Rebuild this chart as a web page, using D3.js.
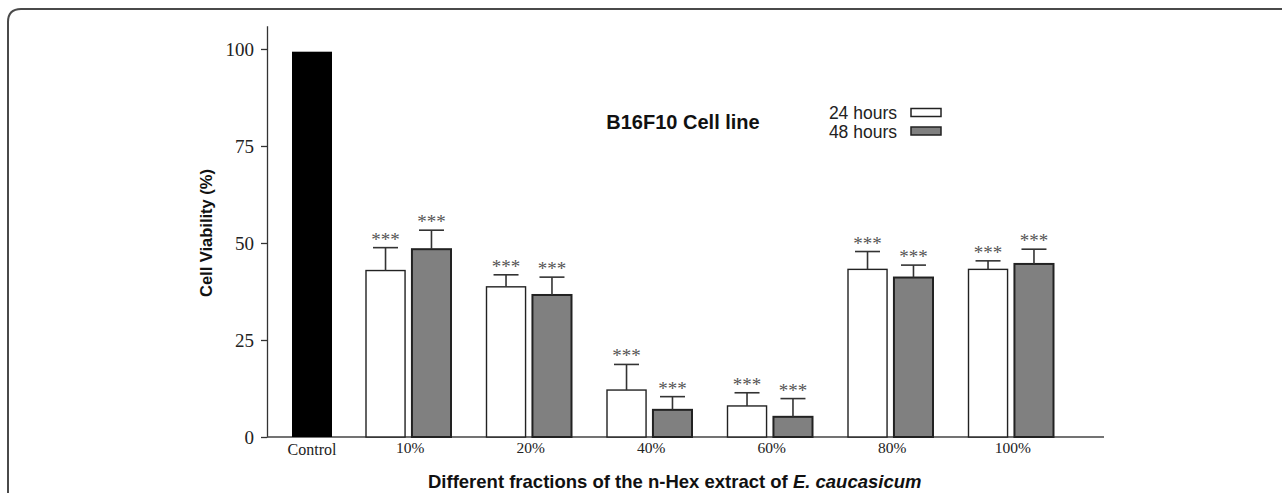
<!DOCTYPE html>
<html>
<head>
<meta charset="utf-8">
<script src="https://cdn.jsdelivr.net/npm/d3@7"></script>
<style>
  body { margin: 0; background: #fff; }
  svg { display: block; }
</style>
</head>
<body>
<svg id="vis"></svg>
<script>
const svg = d3.select("#vis").attr("width", 1282).attr("height", 493);

// data
const categories = ["10%", "20%", "40%", "60%", "80%", "100%"];
const series = ["24 hours", "48 hours"];
const controlValue = 99.3;
const h24 = [42.9, 38.7, 12.1, 8.0, 43.2, 43.2];
const h24Err = [5.9, 3.1, 6.6, 3.4, 4.6, 2.2];
const h48 = [48.4, 36.6, 7.0, 5.2, 41.1, 44.6];
const h48Err = [4.9, 4.6, 3.4, 4.7, 3.2, 3.8];
const yTicks = [0, 25, 50, 75, 100];

const SERIF = "'Liberation Serif', 'Times New Roman', serif";
const SANS = "'Liberation Sans', Arial, sans-serif";
const GRAY = "#808080";

let yscale = d3.scaleLinear().domain([0, 106]).range([437, 25.7]);
let xscale = d3.scaleBand().domain(categories).range([350, 1073]);
let xsub = d3.scaleBand().domain(series).range([16, 101]).paddingInner(0.15);
let xctrl = d3.scaleBand().domain(["Control"]).range([292, 332]);

function main() {
    drawFrame();
    drawAxes();
    drawBars();
    drawLabels();
}

function drawFrame() {
    svg.append("path")
        .attr("d", "M8,493 V22 Q8,9 21,9 H1282")
        .attr("fill", "none")
        .attr("stroke", "#4a4a4a")
        .attr("stroke-width", 2);
}

function drawAxes() {
    const yAxis = svg.append("g")
        .attr("transform", "translate(267,0)")
        .call(d3.axisLeft(yscale).tickValues(yTicks).tickSize(6).tickPadding(7).tickSizeOuter(0));
    yAxis.select(".domain").attr("stroke", "#333").attr("stroke-width", 1.3);
    yAxis.selectAll(".tick line").attr("stroke", "#333").attr("stroke-width", 1.3);
    yAxis.selectAll(".tick text")
        .attr("font-family", SERIF)
        .attr("font-size", 19)
        .attr("fill", "#222");

    // baseline
    svg.append("line")
        .attr("x1", 267).attr("x2", 1104)
        .attr("y1", yscale(0)).attr("y2", yscale(0))
        .attr("stroke", "#444").attr("stroke-width", 1.5);

    // category labels
    svg.append("text")
        .attr("x", xctrl("Control") + xctrl.bandwidth() / 2)
        .attr("y", 455)
        .attr("text-anchor", "middle")
        .attr("font-family", SERIF).attr("font-size", 16)
        .attr("fill", "#222")
        .text("Control");
    svg.selectAll(".catlabel").data(categories).join("text")
        .attr("class", "catlabel")
        .attr("x", d => xscale(d) + xscale.bandwidth() / 2)
        .attr("y", 453)
        .attr("text-anchor", "middle")
        .attr("font-family", SERIF).attr("font-size", 15.5)
        .attr("fill", "#222")
        .text(d => d);
}

function drawBars() {
    svg.append("rect")
        .attr("x", xctrl("Control"))
        .attr("width", xctrl.bandwidth())
        .attr("y", yscale(controlValue))
        .attr("height", yscale(0) - yscale(controlValue))
        .attr("fill", "#000");

    const barData = [];
    categories.forEach((c, i) => {
        barData.push({cat: c, s: series[0], v: h24[i], e: h24Err[i], fill: "#fff", sw: 1.4});
        barData.push({cat: c, s: series[1], v: h48[i], e: h48Err[i], fill: GRAY, sw: 2});
    });

    const g = svg.selectAll(".bar").data(barData).join("g").attr("class", "bar");
    g.append("rect")
        .attr("x", d => xscale(d.cat) + xsub(d.s))
        .attr("width", xsub.bandwidth())
        .attr("y", d => yscale(d.v))
        .attr("height", d => yscale(0) - yscale(d.v))
        .attr("fill", d => d.fill)
        .attr("stroke", "#222")
        .attr("stroke-width", d => d.sw);

    const cx = d => xscale(d.cat) + xsub(d.s) + xsub.bandwidth() / 2;
    g.append("line")
        .attr("x1", cx).attr("x2", cx)
        .attr("y1", d => yscale(d.v)).attr("y2", d => yscale(d.v + d.e))
        .attr("stroke", "#333").attr("stroke-width", 1.6);
    g.append("line")
        .attr("x1", d => cx(d) - 12.5).attr("x2", d => cx(d) + 12.5)
        .attr("y1", d => yscale(d.v + d.e)).attr("y2", d => yscale(d.v + d.e))
        .attr("stroke", "#333").attr("stroke-width", 1.6);
    g.append("text")
        .attr("x", cx)
        .attr("y", d => yscale(d.v + d.e) - 2)
        .attr("text-anchor", "middle")
        .attr("font-family", SERIF).attr("font-size", 19)
        .attr("fill", "#555")
        .text("***");
}

function drawLabels() {
    svg.append("text")
        .attr("x", 683).attr("y", 129)
        .attr("text-anchor", "middle")
        .attr("font-family", SANS).attr("font-weight", "bold").attr("font-size", 20)
        .attr("fill", "#111")
        .text("B16F10 Cell line");

    const legend = svg.selectAll(".legend").data(series).join("g")
        .attr("class", "legend")
        .attr("transform", (d, i) => `translate(0,${i * 18.5})`);
    legend.append("text")
        .attr("x", 897).attr("y", 119)
        .attr("text-anchor", "end")
        .attr("font-family", SANS).attr("font-size", 17.5)
        .attr("fill", "#222")
        .text(d => d);
    legend.append("rect")
        .attr("x", 911).attr("y", 108.5)
        .attr("width", 30).attr("height", 8)
        .attr("fill", (d, i) => i === 0 ? "#fff" : GRAY)
        .attr("stroke", "#222").attr("stroke-width", 1.5);

    svg.append("text")
        .attr("transform", "translate(212,233) rotate(-90)")
        .attr("text-anchor", "middle")
        .attr("font-family", SANS).attr("font-weight", "bold").attr("font-size", 16.5)
        .attr("fill", "#111")
        .text("Cell Viability (%)");

    const xl = svg.append("text")
        .attr("x", 428).attr("y", 488)
        .attr("font-family", SANS).attr("font-weight", "bold").attr("font-size", 18.5)
        .attr("fill", "#111");
    xl.append("tspan").text("Different fractions of the n-Hex extract of ");
    xl.append("tspan").attr("font-style", "italic").text("E. caucasicum");
}

main();
</script>
</body>
</html>
